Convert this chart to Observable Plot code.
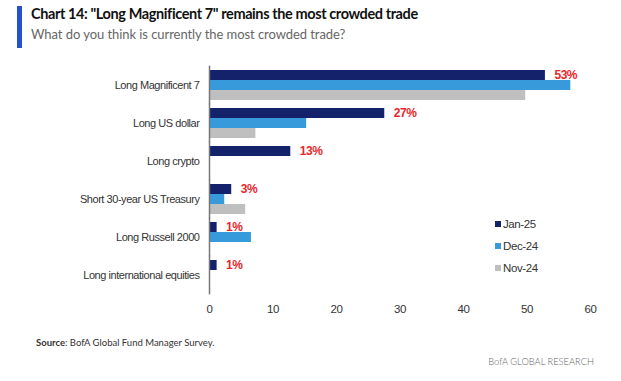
<!DOCTYPE html>
<html>
<head>
<meta charset="utf-8">
<script src="https://cdn.jsdelivr.net/npm/d3@7"></script>
<script src="https://cdn.jsdelivr.net/npm/@observablehq/plot@0.6"></script>
<style>
  html, body { margin: 0; padding: 0; background: #fff; }
  #wrap { position: relative; width: 621px; height: 381px; overflow: hidden; background: #fff; }
  #bar { position: absolute; left: 17px; top: 6px; width: 5px; height: 42px; background: #2450d4; }
  #title { position: absolute; left: 31px; top: 6px; font-family: Lato, sans-serif; font-weight: 700; font-size: 14.5px; letter-spacing: -0.4px; line-height: 15px; color: #111; white-space: nowrap; }
  #subtitle { position: absolute; left: 31px; top: 28px; font-family: Lato, sans-serif; font-size: 13px; letter-spacing: -0.06px; line-height: 13px; color: #666; white-space: nowrap; }
  #chart { position: absolute; left: 0; top: 56px; }
  #legend { position: absolute; left: 495px; top: 213px; font-family: "Liberation Sans", Arial, sans-serif; font-size: 11.5px; letter-spacing: -0.4px; color: #333; }
  #legend .item { height: 22.2px; display: flex; align-items: center; }
  #legend .sw { width: 6px; height: 6px; margin-right: 2px; }
  #source { position: absolute; left: 36px; top: 337px; font-family: Lato, sans-serif; font-size: 9.5px; color: #333; white-space: nowrap; }
  #brand { position: absolute; right: 27px; top: 356px; font-family: Lato, sans-serif; font-weight: 300; font-size: 9.3px; color: #666; white-space: nowrap; }
  #chart svg { font-family: "Liberation Sans", Arial, sans-serif; }
  #chart svg text { letter-spacing: -0.45px; }
</style>
</head>
<body>
<div id="wrap">
  <div id="bar"></div>
  <div id="title">Chart 14: "Long Magnificent 7" remains the most crowded trade</div>
  <div id="subtitle">What do you think is currently the most crowded trade?</div>
  <div id="chart"></div>
  <div id="legend"></div>
  <div id="source"><b>Source</b>: BofA Global Fund Manager Survey.</div>
  <div id="brand">BofA GLOBAL RESEARCH</div>
</div>
<script>
const categories = [
  "Long Magnificent 7",
  "Long US dollar",
  "Long crypto",
  "Short 30-year US Treasury",
  "Long Russell 2000",
  "Long international equities"
];
const series = ["Jan-25", "Dec-24", "Nov-24"];
const jan25 = [52.9, 27.6, 12.8, 3.5, 1.2, 1.2];
const dec24 = [56.9, 15.3, 0, 2.4, 6.6, 0];
const nov24 = [49.8, 7.3, 0, 5.7, 0, 0];
const janLabels = ["53%", "27%", "13%", "3%", "1%", "1%"];
const xTicks = [0, 10, 20, 30, 40, 50, 60];
const colors = ["#14216b", "#379ada", "#bfbfbf"];

const valuesBySeries = [jan25, dec24, nov24];
const data = [];
categories.forEach((c, i) => {
  series.forEach((s, j) => {
    data.push({category: c, series: s, value: valuesBySeries[j][i]});
  });
});
const labelData = categories.map((c, i) => ({category: c, series: "Jan-25", value: jan25[i], label: janLabels[i]}));

const chart = Plot.plot({
  width: 621,
  height: 265,
  marginTop: 11,
  marginBottom: 28,
  marginLeft: 209,
  marginRight: 31,
  x: {domain: [0, 60], ticks: xTicks, label: null},
  y: {domain: series, axis: null, paddingInner: 0, paddingOuter: 0},
  fy: {domain: categories, paddingInner: 0.17, paddingOuter: 0, label: null},
  color: {domain: series, range: colors},
  marks: [
    Plot.barX(data.filter(d => d.value > 0), {fy: "category", y: "series", x: "value", fill: "series"}),
    Plot.text(labelData, {fy: "category", y: "series", x: "value", text: "label", dx: 9, textAnchor: "start", fill: "#e8262b", fontWeight: "bold", fontSize: 12}),
    Plot.ruleX([0], {stroke: "#777", strokeWidth: 1.5, insetTop: -3.4, insetBottom: -3.4}),
    Plot.axisFy({anchor: "left", tickSize: 0, tickPadding: 10, fontSize: 11, fill: "#333", label: null}),
    Plot.axisX({ticks: xTicks, tickSize: 0, tickPadding: 13, fontSize: 11.5, fill: "#333", label: null, facetAnchor: "bottom"})
  ]
});
document.getElementById("chart").appendChild(chart);

const legend = document.getElementById("legend");
series.forEach((s, i) => {
  const it = document.createElement("div");
  it.className = "item";
  const sw = document.createElement("span");
  sw.className = "sw";
  sw.style.background = colors[i];
  const tx = document.createElement("span");
  tx.textContent = s;
  it.appendChild(sw);
  it.appendChild(tx);
  legend.appendChild(it);
});
</script>
</body>
</html>
